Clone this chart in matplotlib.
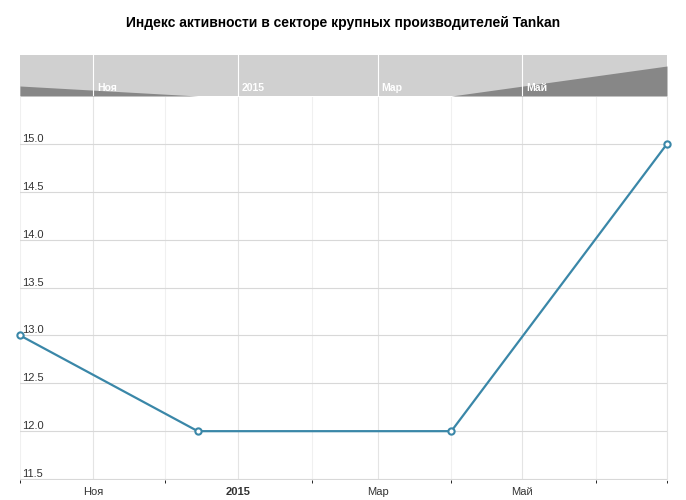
import matplotlib
matplotlib.use("Agg")
import matplotlib.pyplot as plt
import matplotlib.dates as mdates
import pandas as pd

dates = pd.to_datetime(["2014-10-01", "2014-12-15", "2015-04-01", "2015-07-01"])
values = [13.0, 12.0, 12.0, 15.0]
yticks = [11.5, 12.0, 12.5, 13.0, 13.5, 14.0, 14.5, 15.0]
month_names = {1: "Янв", 3: "Мар", 5: "Май", 7: "Июл", 9: "Сен", 11: "Ноя"}

def fmt(x, pos=None):
    d = mdates.num2date(x)
    return str(d.year) if d.month == 1 else month_names.get(d.month, "")

fig = plt.figure(figsize=(6.86, 5.0), dpi=100)
fig.text(0.5, 0.955, "Индекс активности в секторе крупных производителей Tankan",
         ha="center", va="center", fontsize=10, fontweight="bold", family="Liberation Sans")

x0, x1 = 20/686, 667/686
ax = fig.add_axes([x0, 1-480/500, x1-x0, (480-97)/500])
nav = fig.add_axes([x0, 1-96/500, x1-x0, 41/500])

xmin, xmax = dates[0], dates[-1]
ax.plot(dates, values, color="#3a87a8", lw=1.6, marker="o", ms=4.5,
        mfc="white", mec="#3a87a8", mew=1.5, zorder=3, clip_on=False)
ax.set_xlim(xmin, xmax)
ax.set_ylim(11.49, 15.49)
ax.set_yticks(yticks)
ax.set_yticklabels([])
for v in yticks:
    ax.text(0.004, v, f"{v:.1f}", transform=ax.get_yaxis_transform(),
            ha="left", va="bottom", fontsize=8, color="#333333", family="Liberation Sans")
ax.xaxis.set_major_locator(mdates.MonthLocator(bymonth=[1, 3, 5, 11]))
ax.xaxis.set_minor_locator(mdates.MonthLocator())
ax.xaxis.set_major_formatter(plt.FuncFormatter(fmt))
for lab in ax.get_xticklabels():
    lab.set_fontsize(8)
    lab.set_family("Liberation Sans")
    lab.set_color("#333333")
ax.tick_params(axis="both", length=0, pad=5)
ax.grid(axis="y", color="#d8d8d8", lw=0.8)
ax.grid(axis="x", which="major", color="#e4e4e4", lw=0.8)
ax.grid(axis="x", which="minor", color="#f0f0f0", lw=0.8)
for s in ax.spines.values():
    s.set_visible(False)
ax.spines["right"].set_visible(True)
ax.spines["right"].set_color("#e4e4e4")
fig.canvas.draw()
for lab in ax.get_xticklabels():
    if lab.get_text().isdigit():
        lab.set_fontweight("bold")

nav.set_facecolor("#d0d0d0")
nav.fill_between(dates, values, 12.0, color="#878787", lw=0)
nav.set_xlim(xmin, xmax)
nav.set_ylim(12.0, 16.1)
nav.set_yticks([])
nav.xaxis.set_major_locator(mdates.MonthLocator(bymonth=[1, 3, 5, 11]))
nav.xaxis.set_major_formatter(plt.NullFormatter())
nav.grid(axis="x", color="white", lw=0.8)
nav.tick_params(length=0)
for s in nav.spines.values():
    s.set_visible(False)
for t in nav.get_xticks():
    nav.text(t + 1.5, 12.3, fmt(t), color="white", fontsize=7.5, fontweight="bold",
             family="Liberation Sans", va="bottom", ha="left")

fig.savefig("out.png", dpi=100)
